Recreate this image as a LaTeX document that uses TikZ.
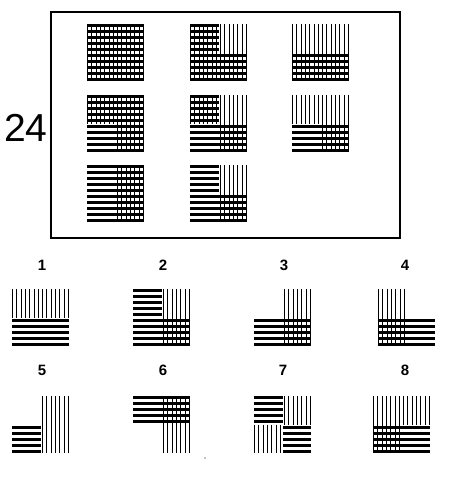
\documentclass[tikz,border=0pt]{standalone}
\usepackage{fontspec}
\setmainfont{Liberation Sans}
% H bars in quadrant (col,row)
\newcommand\hbars[2]{\foreach \k in {0,...,4}{\fill[black] ({28.5*#1},{6*(5*#2+\k)}) rectangle ({28.5*#1+28.5},{6*(5*#2+\k)+3});}}
% vertical lines in quadrant (col,row)
\newcommand\vlines[2]{\foreach \j in {0,...,6}{\pgfmathtruncatemacro\xx{round((7*#1+\j)*4.3077)}\draw[vline] ({\xx+0.5},{28.5*#2}) -- ++(0,28.5);}}
% quadrant: col,row,type (0 none,1 H,2 V,3 grid)
\newcommand\quadr[3]{%
  \ifnum#3=1 \hbars{#1}{#2}\fi
  \ifnum#3=2 \vlines{#1}{#2}\fi
  \ifnum#3=3 \hbars{#1}{#2}\vlines{#1}{#2}\fi}
% tile: x0,y0,TL,TR,BL,BR
\newcommand\tile[6]{%
  \begin{scope}[shift={(#1,#2)}]
    \quadr{0}{0}{#3}\quadr{1}{0}{#4}\quadr{0}{1}{#5}\quadr{1}{1}{#6}
  \end{scope}}
\begin{document}
\begin{tikzpicture}[x=1pt,y=-1pt,
  vline/.style={line width=1pt,black},
  optlabel/.style={font=\bfseries\fontsize{15}{15}\selectfont,inner sep=0pt},
  frame/.style={line width=2.6pt,black}]
\useasboundingbox (0,0) rectangle (448,480);
\draw[frame] (51,12) rectangle (400,238);
\node[inner sep=0pt,font=\fontsize{39}{39}\selectfont] (n24) at (26,128) {24};
% matrix
\tile{87}{24}{3}{3}{3}{3}
\tile{190}{24}{3}{2}{3}{3}
\tile{292}{24}{2}{2}{3}{3}
\tile{87}{95}{3}{3}{1}{3}
\tile{190}{95}{3}{2}{1}{3}
\tile{292}{95}{2}{2}{1}{3}
\tile{87}{165}{1}{3}{1}{3}
\tile{190}{165}{1}{2}{1}{3}
% options
\node[optlabel] (l1) at (42,265) {1};
\node[optlabel] (l2) at (163,265) {2};
\node[optlabel] (l3) at (284,265) {3};
\node[optlabel] (l4) at (405,265) {4};
\node[optlabel] (l5) at (42,370) {5};
\node[optlabel] (l6) at (163,370) {6};
\node[optlabel] (l7) at (283,370) {7};
\node[optlabel] (l8) at (405,370) {8};
\tile{12}{289}{2}{2}{1}{1}
\tile{133}{289}{1}{2}{1}{3}
\tile{254}{289}{0}{2}{1}{3}
\tile{378}{289}{2}{0}{3}{1}
\tile{12}{396}{0}{2}{1}{2}
\tile{133}{396}{1}{3}{0}{2}
\tile{254}{396}{1}{2}{2}{1}
\tile{373}{396}{2}{2}{3}{1}
\fill (205,458) circle (0.6);
\end{tikzpicture}
\end{document}
